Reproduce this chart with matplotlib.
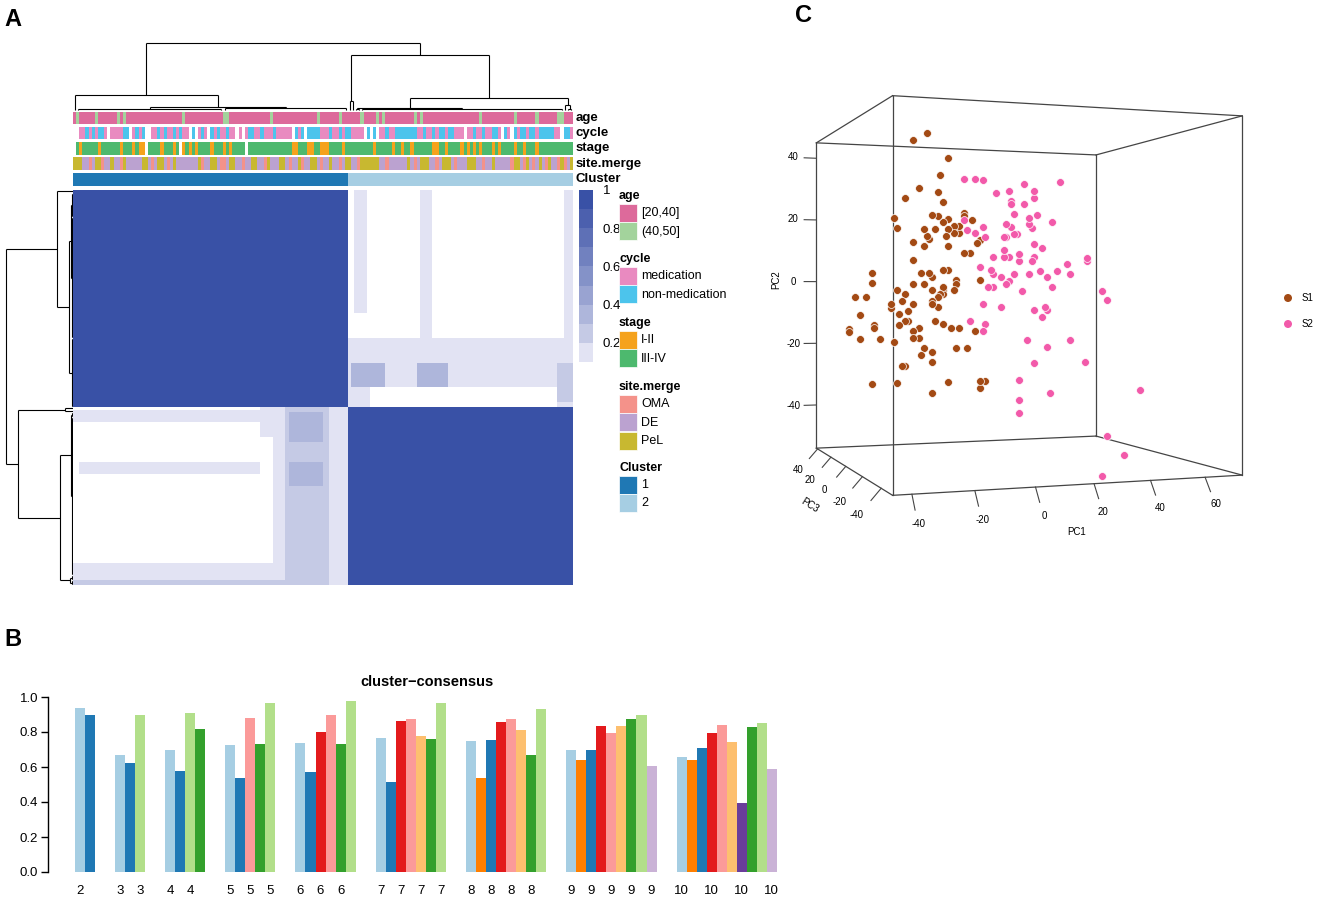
import numpy as np
import matplotlib
matplotlib.use("Agg")
import matplotlib.pyplot as plt
from matplotlib.colors import ListedColormap, BoundaryNorm
from matplotlib.patches import Rectangle, Circle

plt.rcParams['font.family'] = ['Liberation Sans', 'DejaVu Sans']
NARROW = ['Liberation Sans Narrow', 'Liberation Sans', 'DejaVu Sans']

W, H = 1322, 901
fig = plt.figure(figsize=(W / 100, H / 100), dpi=100)


def px_axes(x0, y0, x1, y1, **kw):
    return fig.add_axes([x0 / W, 1 - y1 / H, (x1 - x0) / W, (y1 - y0) / H], **kw)


# ---------------- data: panel A (consensus matrix, k = 2) ----------------
cluster_sizes = [88, 72]
N = sum(cluster_sizes)

# consensus blocks: (row0, row1, col0, col1, value), applied in order
consensus_blocks = [
    (0, 88, 0, 88, 0.95),
    (88, 160, 88, 160, 0.95),
    (0, 50, 90, 94, 0.12),
    (0, 62, 111, 115, 0.12),
    (60, 68, 88, 160, 0.12),
    (0, 68, 157, 160, 0.12),
    (68, 88, 88, 160, 0.15),
    (70, 80, 89, 100, 0.35),
    (70, 80, 110, 120, 0.35),
    (80, 88, 95, 155, 0.05),
    (70, 86, 155, 160, 0.3),
    (89, 94, 0, 68, 0.12),
    (110, 115, 2, 60, 0.12),
    (88, 100, 60, 64, 0.12),
    (88, 160, 64, 68, 0.12),
    (151, 158, 0, 68, 0.12),
    (158, 160, 0, 68, 0.3),
    (88, 160, 68, 88, 0.2),
    (90, 102, 69, 80, 0.35),
    (110, 120, 69, 80, 0.35),
    (88, 160, 82, 88, 0.12),
]

# annotation tracks
age_levels = ['[20,40]', '(40,50]']
age_older = [1, 7, 14, 16, 35, 48, 49, 63, 78, 85, 92, 97, 99, 109, 111,
             130, 141, 148, 155, 156]
cycle_levels = ['medication', 'non-medication']
cycle_runs = ("W2 M2 N1 M1 N1 M1 N2 M1 W1 M4 N2 W1 M1 N1 M1 N1 W2 M2 N1 M1 N1 M2 N1 M1 "
              "N1 M2 W1 N1 W1 M1 N1 M1 W1 N1 M1 N1 M2 N1 M2 W1 M1 W1 M1 N2 M2 N1 M3 N1 "
              "M5 W1 N1 M1 N1 W1 N4 M1 "
              "M2 N1 M2 N1 M1 N2 M4 W1 N1 W1 N1 W1 M2 N1 M2 N7 M2 N1 M2 N1 M1 N2 M1 N2 "
              "M3 W1 M2 N1 M2 N1 M2 N2 M1 W1 N1 M1 W1 N1 M1 N2 M1 N2 M1 N5 M2 W1 N2 M1")
stage_levels = ['I-II', 'III-IV']
stage_runs = ("W1 G1 O1 G5 O1 G6 O1 G3 O1 G1 O2 W1 G4 O1 G3 O1 G1 W1 O1 G1 O1 G1 O1 G4 "
              "O1 G3 O1 G1 O1 G4 W1 G14 O2 G3 O2 G2 O1 "
              "O2 G4 O1 G9 O1 G5 O1 G2 O1 G2 O1 G6 O2 G2 O1 G4 O1 G1 O1 G1 O1 G1 O1 G3 "
              "O1 G1 O1 G4 O1 G2 O1 G3 O1 G11")
site_levels = ['OMA', 'DE', 'PeL']
site_seq = ("PPPDDODPPO" "DDPDDOPDDD" "DDPPDODPPD" "ODPDDDDDDD"
            "PODDPPDOOD" "PPDDODDPPD" "DOPDDDPPDO" "DDPODDPPDO"
            "DDPDDODPPD" "DOPPPPPPDD" "ODDDDDDPDO" "DPPPDDODPP"
            "PDODDDPPPD" "DODDPDDDDD" "OPPDOPDODP" "DOPDDOPODP")

# dendrograms: int = leaf, ('g', a, b, h) = tight group, (h, left, right) = merge
col_tree = (1.0,
            (0.224, 0, (0.05, ('g', 1, 47, 0.02), ('g', 48, 87, 0.025))),
            (0.82, (0.14, 88, 89),
             (0.18, (0.03, ('g', 90, 91, 0.01), ('g', 92, 156, 0.018)),
              (0.07, 157, ('g', 158, 159, 0.02)))))
row_tree = (1.0,
            (0.24, 0, (0.06, (0.03, ('g', 1, 10, 0.012), ('g', 11, 59, 0.015)),
                       ('g', 60, 87, 0.018))),
            (0.82, (0.12, 88, 89),
             (0.19, (0.03, ('g', 90, 91, 0.01), ('g', 92, 155, 0.015)),
              (0.05, ('g', 156, 157, 0.01), ('g', 158, 159, 0.01)))))

# ---------------- data: panel B (cluster consensus) ----------------
k_values = [2, 3, 4, 5, 6, 7, 8, 9, 10]
cc_values = [
    [0.94, 0.896],
    [0.67, 0.623, 0.896],
    [0.70, 0.58, 0.91, 0.817],
    [0.726, 0.538, 0.88, 0.732, 0.968],
    [0.74, 0.57, 0.80, 0.90, 0.734, 0.975],
    [0.764, 0.515, 0.862, 0.877, 0.777, 0.76, 0.966],
    [0.75, 0.54, 0.755, 0.858, 0.877, 0.811, 0.666, 0.932],
    [0.70, 0.64, 0.696, 0.834, 0.792, 0.836, 0.872, 0.896, 0.607],
    [0.655, 0.638, 0.706, 0.792, 0.84, 0.742, 0.396, 0.826, 0.853, 0.59],
]
cc_colors = [
    ['lb', 'b'],
    ['lb', 'b', 'lg'],
    ['lb', 'b', 'lg', 'g'],
    ['lb', 'b', 'pk', 'g', 'lg'],
    ['lb', 'b', 'r', 'pk', 'g', 'lg'],
    ['lb', 'b', 'r', 'pk', 'lo', 'g', 'lg'],
    ['lb', 'o', 'b', 'r', 'pk', 'lo', 'g', 'lg'],
    ['lb', 'o', 'b', 'r', 'pk', 'lo', 'g', 'lg', 'lv'],
    ['lb', 'o', 'b', 'r', 'pk', 'lo', 'pu', 'g', 'lg', 'lv'],
]
paired = {'lb': '#A6CEE3', 'b': '#1F78B4', 'lg': '#B2DF8A', 'g': '#33A02C',
          'pk': '#FB9A99', 'r': '#E31A1C', 'lo': '#FDBF6F', 'o': '#FF7F00',
          'lv': '#CAB2D6', 'pu': '#6A3D9A'}

# ---------------- data: panel C (PCA, 3 components) ----------------
s1_pc1 = [-23, -18, -10, -13, -21, -14, -26, -12, -30, -29, -16, -14, -12, -10, -8, -6,
          -4, -4, -1, -19, -15, -18, -11, -10, -8, -6, -23, -19, -17, -10, 1, 2, -4, -2,
          -23, -20, -17, -16, -12, -10, -7, -7, 2, -38, -38, -44, -40, -42, -29, -26, -27,
          -23, -19, -16, -12, -12, -8, -31, -31, -25, -23, -28, -26, -25, -28, -16, -14,
          -13, -14, -16, -46, -46, -42, -37, -37, -35, -30, -23, -21, -15, -12, -9, -6, 0,
          -21, -19, -16, -20, -7, -3, -16, -27, -26, -38, -29, -10, -16, 2, 4, 2, -12, -23]
s1_pc2 = [41, 43, 36, 31, 27, 26, 24, 23, 18, 15, 19, 19, 17, 18, 16, 16,
          20, 19, 18, 15, 15, 13, 13, 15, 14, 14, 11, 10, 12, 10, 11, 12, 8, 8,
          6, 2, 2, 1, 3, 3, 0, -1, 0, 2, -1, -5, -5, -10, -3, -4, -6,
          -1, -1, -3, -2, -3, -3, -7, -8, -9, -7, -10, -12, -12, -13, -6, -5,
          -4, -8, -7, -14, -15, -17, -13, -14, -17, -18, -15, -14, -12, -13, -14, -14, -15,
          -17, -20, -21, -22, -20, -20, -24, -25, -25, -30, -30, -30, -33, -30, -30, -32, -4, -17]
s1_pc3 = [-4, -4, -4, -4, -4, -4, -4, -4, -4, -4, -4, -4, -4, -4, -4, -4,
          -4, -4, -4, -4, -4, -4, -4, -4, -4, -4, -4, -4, -4, -4, -4, -4, -4, -4,
          -4, -4, -4, -4, -4, -4, -4, -4, -4, -4, -4, -4, -4, -4, -4, -4, -4,
          -4, -4, -4, -4, -4, -4, -4, -4, -4, -4, -4, -4, -4, -4, -4, -4,
          -4, -4, -4, -4, -4, -4, -4, -4, -4, -4, -4, -4, -4, -4, -4, -4, -4,
          -4, -4, -4, -4, -4, -4, -4, -4, -4, -4, -4, -4, -4, -4, -4, -4, -4, -4]
s2_pc1 = [-4, 0, 3, 8, 13, 14, 14, 19, 23, 23, 19, 15, 24, 33, 30, 21, 21, 22, 12, 14,
          15, 16, 11, 12, 3, 4, -4, -3, 0, 23, 26, 11, 17, 11, 13, 17, 22, 23, 7, 2,
          6, 7, 10, 13, 12, 15, 21, 25, 28, 32, 36, 37, 44, 44, 5, 7, 18, 30, 3, 10,
          23, 27, 28, 26, 50, 52, -2, 4, 3, 20, 28, 37, 23, 43, 17, 17, 17, 29, 66, 52,
          59, 29]
s2_pc2 = [30, 30, 30, 26, 27, 24, 23, 29, 27, 25, 23, 20, 20, 30, 18, 19, 17, 16, 17, 16,
          14, 14, 13, 13, 16, 13, 18, 15, 14, 11, 10, 9, 8, 7, 7, 6, 6, 7, 7, 4,
          3, 2, 1, 0, -1, 2, 2, 3, 1, 3, 5, 2, 7, 6, -2, -2, -3, -2, -7, -8,
          -9, -8, -9, -11, -3, -6, -12, -13, -15, -18, -20, -18, -25, -25, -30, -36, -40, -34,
          -34, -48, -54, -54]
s2_pc3 = [-4, -4, -4, -4, -4, -4, -4, -4, -4, -4, -4, -4, -4, -4, -4, -4, -4, -4, -4, -4,
          -4, -4, -4, -4, -4, -4, -4, -4, -4, -4, -4, -4, -4, -4, -4, -4, -4, -4, -4, -4,
          -4, -4, -4, -4, -4, -4, -4, -4, -4, -4, -4, -4, -4, -4, -4, -4, -4, -4, -4, -4,
          -4, -4, -4, -4, -4, -4, -4, -4, -4, -4, -4, -4, -4, -4, -4, -4, -4, -4, -4, -4,
          -4, -40]
pc1_ticks = [-40, -20, 0, 20, 40, 60]
pc2_ticks = [-40, -20, 0, 20, 40]
pc3_ticks = [-40, -20, 0, 20, 40]


def parse_runs(s, codes):
    out = []
    for tok in s.split():
        out += [codes[tok[0]]] * int(tok[1:])
    return np.array(out, dtype=float)


# ====================== Panel A ======================
HM_X0, HM_X1, HM_Y0, HM_Y1 = 73, 573, 190, 585

mat = np.zeros((N, N))
for r0, r1, c0, c1, v in consensus_blocks:
    mat[r0:r1, c0:c1] = v

c_lo = np.array([226, 227, 243]) / 255
c_hi = np.array([58, 81, 166]) / 255
cons_colors = ['#FFFFFF'] + [tuple(c_lo + (c_hi - c_lo) * t ** 0.85)
                             for t in np.linspace(0, 1, 9)]
cons_cmap = ListedColormap(cons_colors)
cons_norm = BoundaryNorm(np.linspace(0, 1, 11), cons_cmap.N)

ax_hm = px_axes(HM_X0, HM_Y0, HM_X1, HM_Y1)
ax_hm.imshow(mat, cmap=cons_cmap, norm=cons_norm, aspect='auto',
             interpolation='nearest', extent=(0, N, N, 0))
ax_hm.axis('off')


def draw_tree(ax, node, horiz):
    def seg(p, h):
        if horiz:
            ax.plot(p, h, color='black', lw=0.8, solid_capstyle='butt')
        else:
            ax.plot(h, p, color='black', lw=0.8, solid_capstyle='butt')
    if isinstance(node, int):
        return node + 0.5, 0.0
    if node[0] == 'g':
        _, a, b, h = node
        seg([a + 0.5, b + 0.5], [h, h])
        seg([a + 0.5, a + 0.5], [0, h])
        seg([b + 0.5, b + 0.5], [0, h])
        return (a + b + 1) / 2, h
    h, left, right = node
    p1, h1 = draw_tree(ax, left, horiz)
    p2, h2 = draw_tree(ax, right, horiz)
    seg([p1, p1], [h1, h])
    seg([p2, p2], [h2, h])
    seg([p1, p2], [h, h])
    return (p1 + p2) / 2, h


ax_cd = px_axes(HM_X0, 40, HM_X1, 111)
draw_tree(ax_cd, col_tree, True)
ax_cd.set_xlim(0, N)
ax_cd.set_ylim(-1 / 67, 1 + 3 / 67)
ax_cd.axis('off')

ax_rd = px_axes(3, HM_Y0, HM_X0, HM_Y1)
draw_tree(ax_rd, row_tree, False)
ax_rd.set_xlim(70 / 67, 0)
ax_rd.set_ylim(N, 0)
ax_rd.axis('off')

# annotation tracks
age = np.zeros(N)
age[age_older] = 1
cycle = parse_runs(cycle_runs, {'M': 0, 'N': 1, 'W': np.nan})
stage = parse_runs(stage_runs, {'O': 0, 'G': 1, 'W': np.nan})
site = np.array([{'O': 0, 'D': 1, 'P': 2}[c] for c in site_seq], dtype=float)
cluster = np.repeat(np.arange(len(cluster_sizes)), cluster_sizes).astype(float)

age_cols = ['#DD6A9B', '#A3D39C']
cycle_cols = ['#E98AC0', '#4CC4EC']
stage_cols = ['#F5A21C', '#4DB96E']
site_cols = ['#F4928A', '#BBA2D0', '#C8B830']
cluster_cols = ['#1F78B4', '#A6CEE3']

tracks = [('age', age, age_cols, 112, 124),
          ('cycle', cycle, cycle_cols, 127, 139),
          ('stage', stage, stage_cols, 142, 155),
          ('site.merge', site, site_cols, 157, 170),
          ('Cluster', cluster, cluster_cols, 173, 186)]
for name, vals, cols, y0, y1 in tracks:
    ax_t = px_axes(HM_X0, y0, HM_X1, y1)
    cm = ListedColormap(cols)
    cm.set_bad('white')
    ax_t.imshow(np.ma.masked_invalid(vals)[None, :], cmap=cm, vmin=-0.5,
                vmax=len(cols) - 0.5, aspect='auto', interpolation='nearest',
                extent=(0, N, 1, 0))
    ax_t.axis('off')
    fig.text(576 / W, 1 - (y0 + y1) / 2 / H, name, fontsize=9.5, fontweight='bold',
             family=NARROW, ha='left', va='center')

# colour key
ax_cb = px_axes(579, 190, 593, 362)
levels = np.arange(0.15, 1.0, 0.1)[::-1]
ax_cb.imshow(levels[:, None], cmap=cons_cmap, norm=cons_norm, aspect='auto',
             extent=(0, 1, 0.1, 1.0), origin='upper')
ax_cb.set_ylim(0.1, 1.0)
ax_cb.set_xticks([])
ax_cb.yaxis.tick_right()
ax_cb.set_yticks([0.2, 0.4, 0.6, 0.8, 1.0])
ax_cb.set_yticklabels(['0.2', '0.4', '0.6', '0.8', '1'])
ax_cb.tick_params(axis='y', length=0, pad=7, labelsize=9.5)
for sp in ax_cb.spines.values():
    sp.set_visible(False)

# ====================== Panel B ======================
BAR_PX = 10.03
ax_b = px_axes(48, 697, 790, 872)
pos = 0
tick_pos, tick_lab = [], []
last_shown = -99
for k, vals, cols in zip(k_values, cc_values, cc_colors):
    for v, c in zip(vals, cols):
        ax_b.bar(pos, v, width=1, align='edge', color=paired[c], edgecolor='none')
        lab = str(k)
        need = (7 * len(lab) + 8) / BAR_PX
        if pos + 0.5 - last_shown >= need:
            tick_pos.append(pos + 0.5)
            tick_lab.append(lab)
            last_shown = pos + 0.5
        pos += 1
    pos += 2
ax_b.set_xlim(-(74.8 - 48) / BAR_PX, (790 - 74.8) / BAR_PX)
ax_b.set_ylim(0, 1)
for s in ['top', 'right', 'bottom']:
    ax_b.spines[s].set_visible(False)
ax_b.spines['left'].set_bounds(0, 1)
ax_b.spines['left'].set_linewidth(1.0)
ax_b.set_yticks([0, 0.2, 0.4, 0.6, 0.8, 1.0])
ax_b.set_yticklabels(['0.0', '0.2', '0.4', '0.6', '0.8', '1.0'], family=NARROW)
ax_b.tick_params(axis='y', length=5, width=1, labelsize=9.5, pad=2)
ax_b.set_xticks(tick_pos)
ax_b.set_xticklabels(tick_lab, family=NARROW)
ax_b.tick_params(axis='x', length=0, labelsize=9.5, pad=9)
fig.text(427 / W, 1 - 682 / H, 'cluster\u2212consensus', fontsize=10.5, fontweight='bold',
         family=NARROW, ha='center', va='center')

# ====================== Panel C ======================
S3 = 555
ax_c = fig.add_axes([727.0 / W, 1 - 580.5 / H, S3 / W, S3 / H], projection='3d')
ax_c.set_proj_type('persp', focal_length=0.405)
ax_c.view_init(elev=0, azim=-110)
ax_c.set_box_aspect((1, 1, 1))
xl, yl, zl = (-46, 74), (-51, 42), (-54, 45)
ax_c.set_xlim(*xl)
ax_c.set_ylim(*yl)
ax_c.set_zlim(*zl)
ax_c.set_axis_off()

edge_kw = dict(color='#454545', lw=0.9)
for y in yl:
    for z in zl:
        ax_c.plot(xl, [y, y], [z, z], **edge_kw)
for x in xl:
    for z in zl:
        ax_c.plot([x, x], yl, [z, z], **edge_kw)
for x in xl:
    for y in yl:
        ax_c.plot([x, x], [y, y], zl, **edge_kw)

xr, yr, zr = xl[1] - xl[0], yl[1] - yl[0], zl[1] - zl[0]
tick_kw = dict(color='#454545', lw=0.8)
for v in pc2_ticks:
    ax_c.plot([xl[0], xl[0] - 0.04 * xr], [yl[1], yl[1]], [v, v], **tick_kw)
    ax_c.text(xl[0] - 0.075 * xr, yl[1], v, str(v), fontsize=7, ha='center', va='center')
for v in pc3_ticks:
    ax_c.plot([xl[0], xl[0] - 0.027 * xr], [v, v], [zl[0], zl[0] - 0.03 * zr], **tick_kw)
    ax_c.text(xl[0] - 0.064 * xr, v, zl[0] - 0.066 * zr, str(v), fontsize=7,
              ha='center', va='center')
for v in pc1_ticks:
    ax_c.plot([v, v], [yl[0], yl[0] - 0.03 * yr], [zl[0], zl[0] - 0.035 * zr], **tick_kw)
    ax_c.text(v, yl[0] - 0.06 * yr, zl[0] - 0.065 * zr, str(v), fontsize=7,
              ha='center', va='center')

S1_COL, S2_COL = '#A34A14', '#F25AAA'
ax_c.scatter(s1_pc1, s1_pc3, s1_pc2, s=32, c=S1_COL, edgecolors='white',
             linewidths=0.5, depthshade=False)
ax_c.scatter(s2_pc1, s2_pc3, s2_pc2, s=32, c=S2_COL, edgecolors='white',
             linewidths=0.5, depthshade=False)

# ====================== overlay (pixel coordinates) ======================
ov = fig.add_axes([0, 0, 1, 1], zorder=10)
ov.set_xlim(0, W)
ov.set_ylim(H, 0)
ov.axis('off')
ov.patch.set_alpha(0)

for lab, (x, y) in zip('ABC', [(4, 20), (4, 640), (795, 15)]):
    ov.text(x, y, lab, fontsize=17, fontweight='bold', ha='left', va='center')

legend_groups = [('age', age_levels, age_cols, 196),
                 ('cycle', cycle_levels, cycle_cols, 259),
                 ('stage', stage_levels, stage_cols, 323),
                 ('site.merge', site_levels, site_cols, 387),
                 ('Cluster', ['1', '2'], cluster_cols, 468)]
for title, labs, cols, ty in legend_groups:
    ov.text(619, ty, title, fontsize=9, fontweight='bold', ha='left', va='center')
    for i, (lab, c) in enumerate(zip(labs, cols)):
        y0 = ty + 7.5 + i * 18.5
        ov.add_patch(Rectangle((619, y0), 18, 18, facecolor=c, edgecolor='white', lw=0.5))
        ov.text(641, y0 + 9.5, lab, fontsize=9, ha='left', va='center')

ov.text(776, 280, 'PC2', fontsize=7, rotation=90, ha='center', va='center')
ov.text(1077, 532, 'PC1', fontsize=7, ha='center', va='center')
ov.text(810, 505, 'PC3', fontsize=7, rotation=-32, ha='center', va='center')
for lab, c, y in [('S1', S1_COL, 298), ('S2', S2_COL, 324)]:
    ov.add_patch(Circle((1288, y), 4, facecolor=c, edgecolor='none'))
    ov.text(1302, y, lab, fontsize=7, ha='left', va='center')

fig.savefig('out.png', dpi=100)
